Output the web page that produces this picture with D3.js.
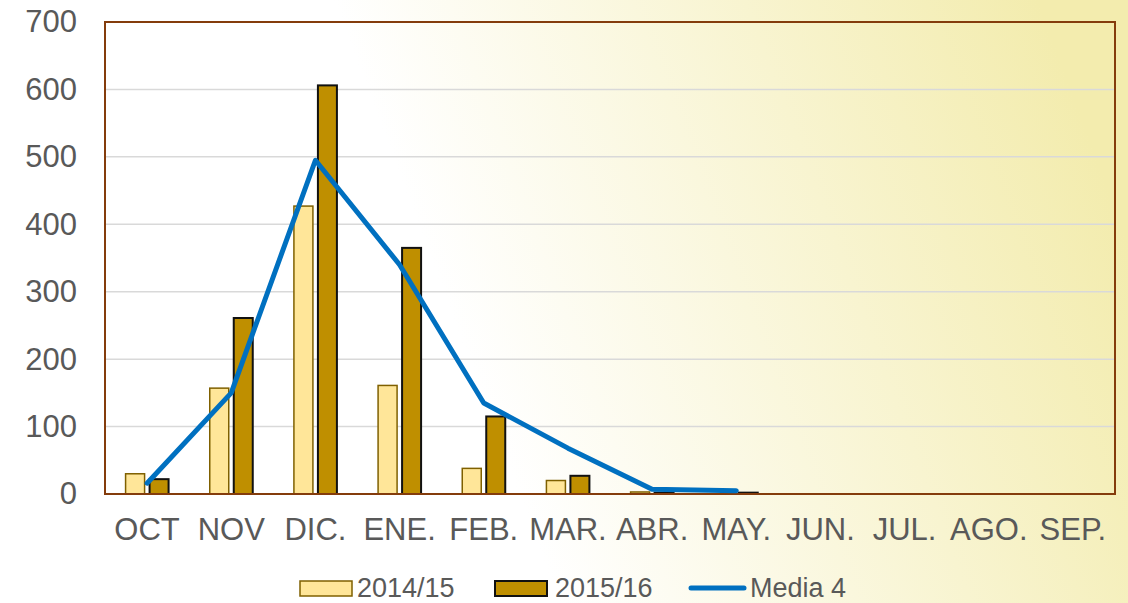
<!DOCTYPE html>
<html lang="es">
<head>
<meta charset="utf-8">
<title>Casos por mes</title>
<script src="https://cdn.jsdelivr.net/npm/d3@7"></script>
<style>
  body { margin: 0; }
  svg { display: block; font-family: "Liberation Sans", Arial, sans-serif; }
</style>
</head>
<body>
<div id="chart"></div>
<script>
var meses = ["OCT", "NOV", "DIC.", "ENE.", "FEB.", "MAR.", "ABR.", "MAY.", "JUN.", "JUL.", "AGO.", "SEP."];
var temp1415 = [30, 157, 427, 161, 38, 20, 3, 0, 0, 0, 0, 0];
var temp1516 = [22, 261, 606, 365, 115, 27, 2, 2, 0, 0, 0, 0];
var media4 = [16, 150, 495, 340, 135, 68, 7, 5];
var yTicks = [0, 100, 200, 300, 400, 500, 600, 700];

var w = 1128, h = 603;
var m = { left: 105, right: 13, top: 22, bottom: 109 };

var svg = d3.select("#chart").append("svg")
  .attr("width", w).attr("height", h);

var defs = svg.append("defs");
var grad = defs.append("linearGradient")
  .attr("id", "bg").attr("x1", "0").attr("y1", "0.6").attr("x2", "1").attr("y2", "0.4");
grad.append("stop").attr("offset", "0.4").attr("stop-color", "#ffffff");
grad.append("stop").attr("offset", "0.75").attr("stop-color", "#f8f4d0");
grad.append("stop").attr("offset", "1").attr("stop-color", "#f3ecae");

svg.append("rect").attr("width", w).attr("height", h).attr("fill", "url(#bg)");

var x = d3.scaleBand().domain(meses).range([m.left, w - m.right]);
var y = d3.scaleLinear().domain([0, 700]).range([h - m.bottom, m.top]);

// gridlines
svg.append("g").selectAll("line").data(yTicks.slice(1))
  .enter().append("line")
  .attr("x1", m.left).attr("x2", w - m.right)
  .attr("y1", function(d) { return y(d); })
  .attr("y2", function(d) { return y(d); })
  .attr("stroke", "#d9d9d9").attr("stroke-width", 1.5);

// y axis labels
var yAxis = d3.axisLeft(y).tickValues(yTicks).tickSize(0).tickPadding(28);
var gy = svg.append("g").attr("transform", "translate(" + m.left + ",0)").call(yAxis);
gy.select(".domain").remove();
gy.selectAll("text").attr("font-size", 31).attr("fill", "#595959")
  .attr("font-family", "Liberation Sans, Arial, sans-serif");

// x axis labels
var xAxis = d3.axisBottom(x).tickSize(0).tickPadding(24);
var gx = svg.append("g").attr("transform", "translate(0," + (h - m.bottom) + ")").call(xAxis);
gx.select(".domain").remove();
gx.selectAll("text").attr("font-size", 31).attr("fill", "#595959")
  .attr("font-family", "Liberation Sans, Arial, sans-serif");

// bars
var bw = 19, gap = 5;
svg.append("g").selectAll("rect").data(temp1415)
  .enter().append("rect")
  .attr("x", function(d, i) { return x(meses[i]) + x.bandwidth() / 2 - gap / 2 - bw; })
  .attr("y", function(d) { return y(d); })
  .attr("width", bw)
  .attr("height", function(d) { return y(0) - y(d); })
  .attr("fill", "#ffe699").attr("stroke", "#7f6000").attr("stroke-width", 1.5);

svg.append("g").selectAll("rect").data(temp1516)
  .enter().append("rect")
  .attr("x", function(d, i) { return x(meses[i]) + x.bandwidth() / 2 + gap / 2; })
  .attr("y", function(d) { return y(d); })
  .attr("width", bw)
  .attr("height", function(d) { return y(0) - y(d); })
  .attr("fill", "#bf8f00").attr("stroke", "#111111").attr("stroke-width", 2);

// plot border
svg.append("rect")
  .attr("x", m.left).attr("y", m.top)
  .attr("width", w - m.left - m.right).attr("height", h - m.top - m.bottom)
  .attr("fill", "none").attr("stroke", "#843c0c").attr("stroke-width", 2);

// media line
var line = d3.line()
  .x(function(d, i) { return x(meses[i]) + x.bandwidth() / 2; })
  .y(function(d) { return y(d); });
svg.append("path").datum(media4)
  .attr("d", line).attr("fill", "none")
  .attr("stroke", "#0070c0").attr("stroke-width", 5)
  .attr("stroke-linecap", "round").attr("stroke-linejoin", "round");

// legend
var lg = svg.append("g").attr("transform", "translate(0,588)");
lg.append("rect").attr("x", 300).attr("y", -7).attr("width", 52).attr("height", 15)
  .attr("fill", "#ffe699").attr("stroke", "#7f6000").attr("stroke-width", 1.5);
lg.append("text").attr("x", 357).attr("y", 9).text("2014/15");
lg.append("rect").attr("x", 495).attr("y", -7).attr("width", 52).attr("height", 15)
  .attr("fill", "#bf8f00").attr("stroke", "#111111").attr("stroke-width", 2);
lg.append("text").attr("x", 555).attr("y", 9).text("2015/16");
lg.append("line").attr("x1", 691).attr("x2", 744).attr("y1", 0).attr("y2", 0)
  .attr("stroke", "#0070c0").attr("stroke-width", 5).attr("stroke-linecap", "round");
lg.append("text").attr("x", 750).attr("y", 9).text("Media 4");
lg.selectAll("text").attr("font-size", 27).attr("fill", "#595959");
</script>
</body>
</html>
